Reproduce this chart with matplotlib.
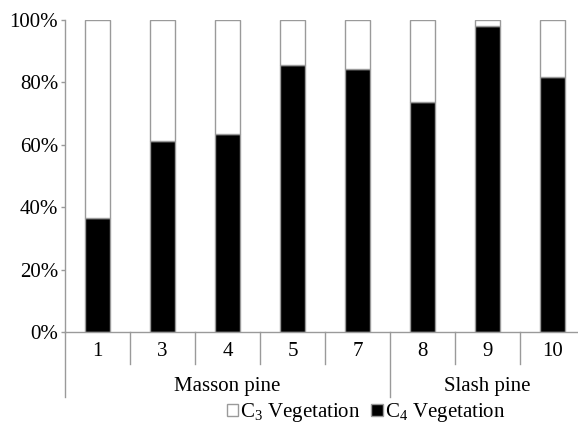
import matplotlib
matplotlib.use("Agg")
import matplotlib.pyplot as plt
from matplotlib.patches import Patch

plt.rcParams['font.family'] = ['Liberation Serif', 'DejaVu Serif']
plt.rcParams['mathtext.fontset'] = 'custom'
plt.rcParams['mathtext.rm'] = 'Liberation Serif'

# site numbers and C4 share per site (percent), C3 is the rest
sites = ['1', '3', '4', '5', '7', '8', '9', '10']
c4_share = [36.5, 61.2, 63.5, 85.6, 84.2, 73.6, 98.2, 81.6]
c3_share = [100 - v for v in c4_share]
groups = ['Masson pine', 'Slash pine']
group_sizes = [5, 3]

W, H = 578, 428
fig = plt.figure(figsize=(W / 100, H / 100), dpi=100)
# x axis runs a bit past the right edge
ax = fig.add_axes([65 / W, 1 - 332 / H, 520 / W, 312 / H])

gray = '#9a9a9a'
pos = [i + 0.5 for i in range(len(sites))]
ax.bar(pos, c4_share, width=0.39, color='black', edgecolor=gray, linewidth=1)
ax.bar(pos, c3_share, bottom=c4_share, width=0.39, color='white', edgecolor=gray, linewidth=1)

ax.set_xlim(0, len(sites))
ax.set_ylim(0, 100)
ax.set_yticks([0, 20, 40, 60, 80, 100])
ax.set_yticklabels([f'{t}%' for t in range(0, 101, 20)], fontsize=15)
ax.tick_params(axis='y', length=3, width=1, color=gray, pad=2)
ax.set_xticks([])

for s in ['top', 'right']:
    ax.spines[s].set_visible(False)
for s in ['left', 'bottom']:
    ax.spines[s].set_color(gray)
    ax.spines[s].set_linewidth(1)

# two-level category axis drawn by hand
tr = ax.get_xaxis_transform()
short = -32 / 312
long = -65 / 312
ax.plot([0, 0], [0, long], color=gray, lw=1, transform=tr, clip_on=False)
bounds = [sum(group_sizes[:i + 1]) for i in range(len(group_sizes))]
for b in range(1, len(sites) + 1):
    y2 = long if b in bounds else short
    ax.plot([b, b], [0, y2], color=gray, lw=1, transform=tr, clip_on=False)
for p, lab in zip(pos, sites):
    ax.text(p, -20 / 312, lab, transform=tr, ha='center', va='center', fontsize=15)
start = 0
for g, n in zip(groups, group_sizes):
    ax.text(start + n / 2, -55 / 312, g, transform=tr, ha='center', va='center', fontsize=15)
    start += n

handles = [Patch(facecolor='white', edgecolor=gray, linewidth=1),
           Patch(facecolor='black', edgecolor=gray, linewidth=1)]
fig.legend(handles, ['C$_3$ Vegetation', 'C$_4$ Vegetation'],
           loc='center', bbox_to_anchor=(366 / W, 1 - 413 / H), ncol=2,
           frameon=False, fontsize=15, handlelength=0.55, handleheight=0.55,
           handletextpad=0.1, columnspacing=0.5, borderpad=0)

fig.savefig('out.png', dpi=100)
